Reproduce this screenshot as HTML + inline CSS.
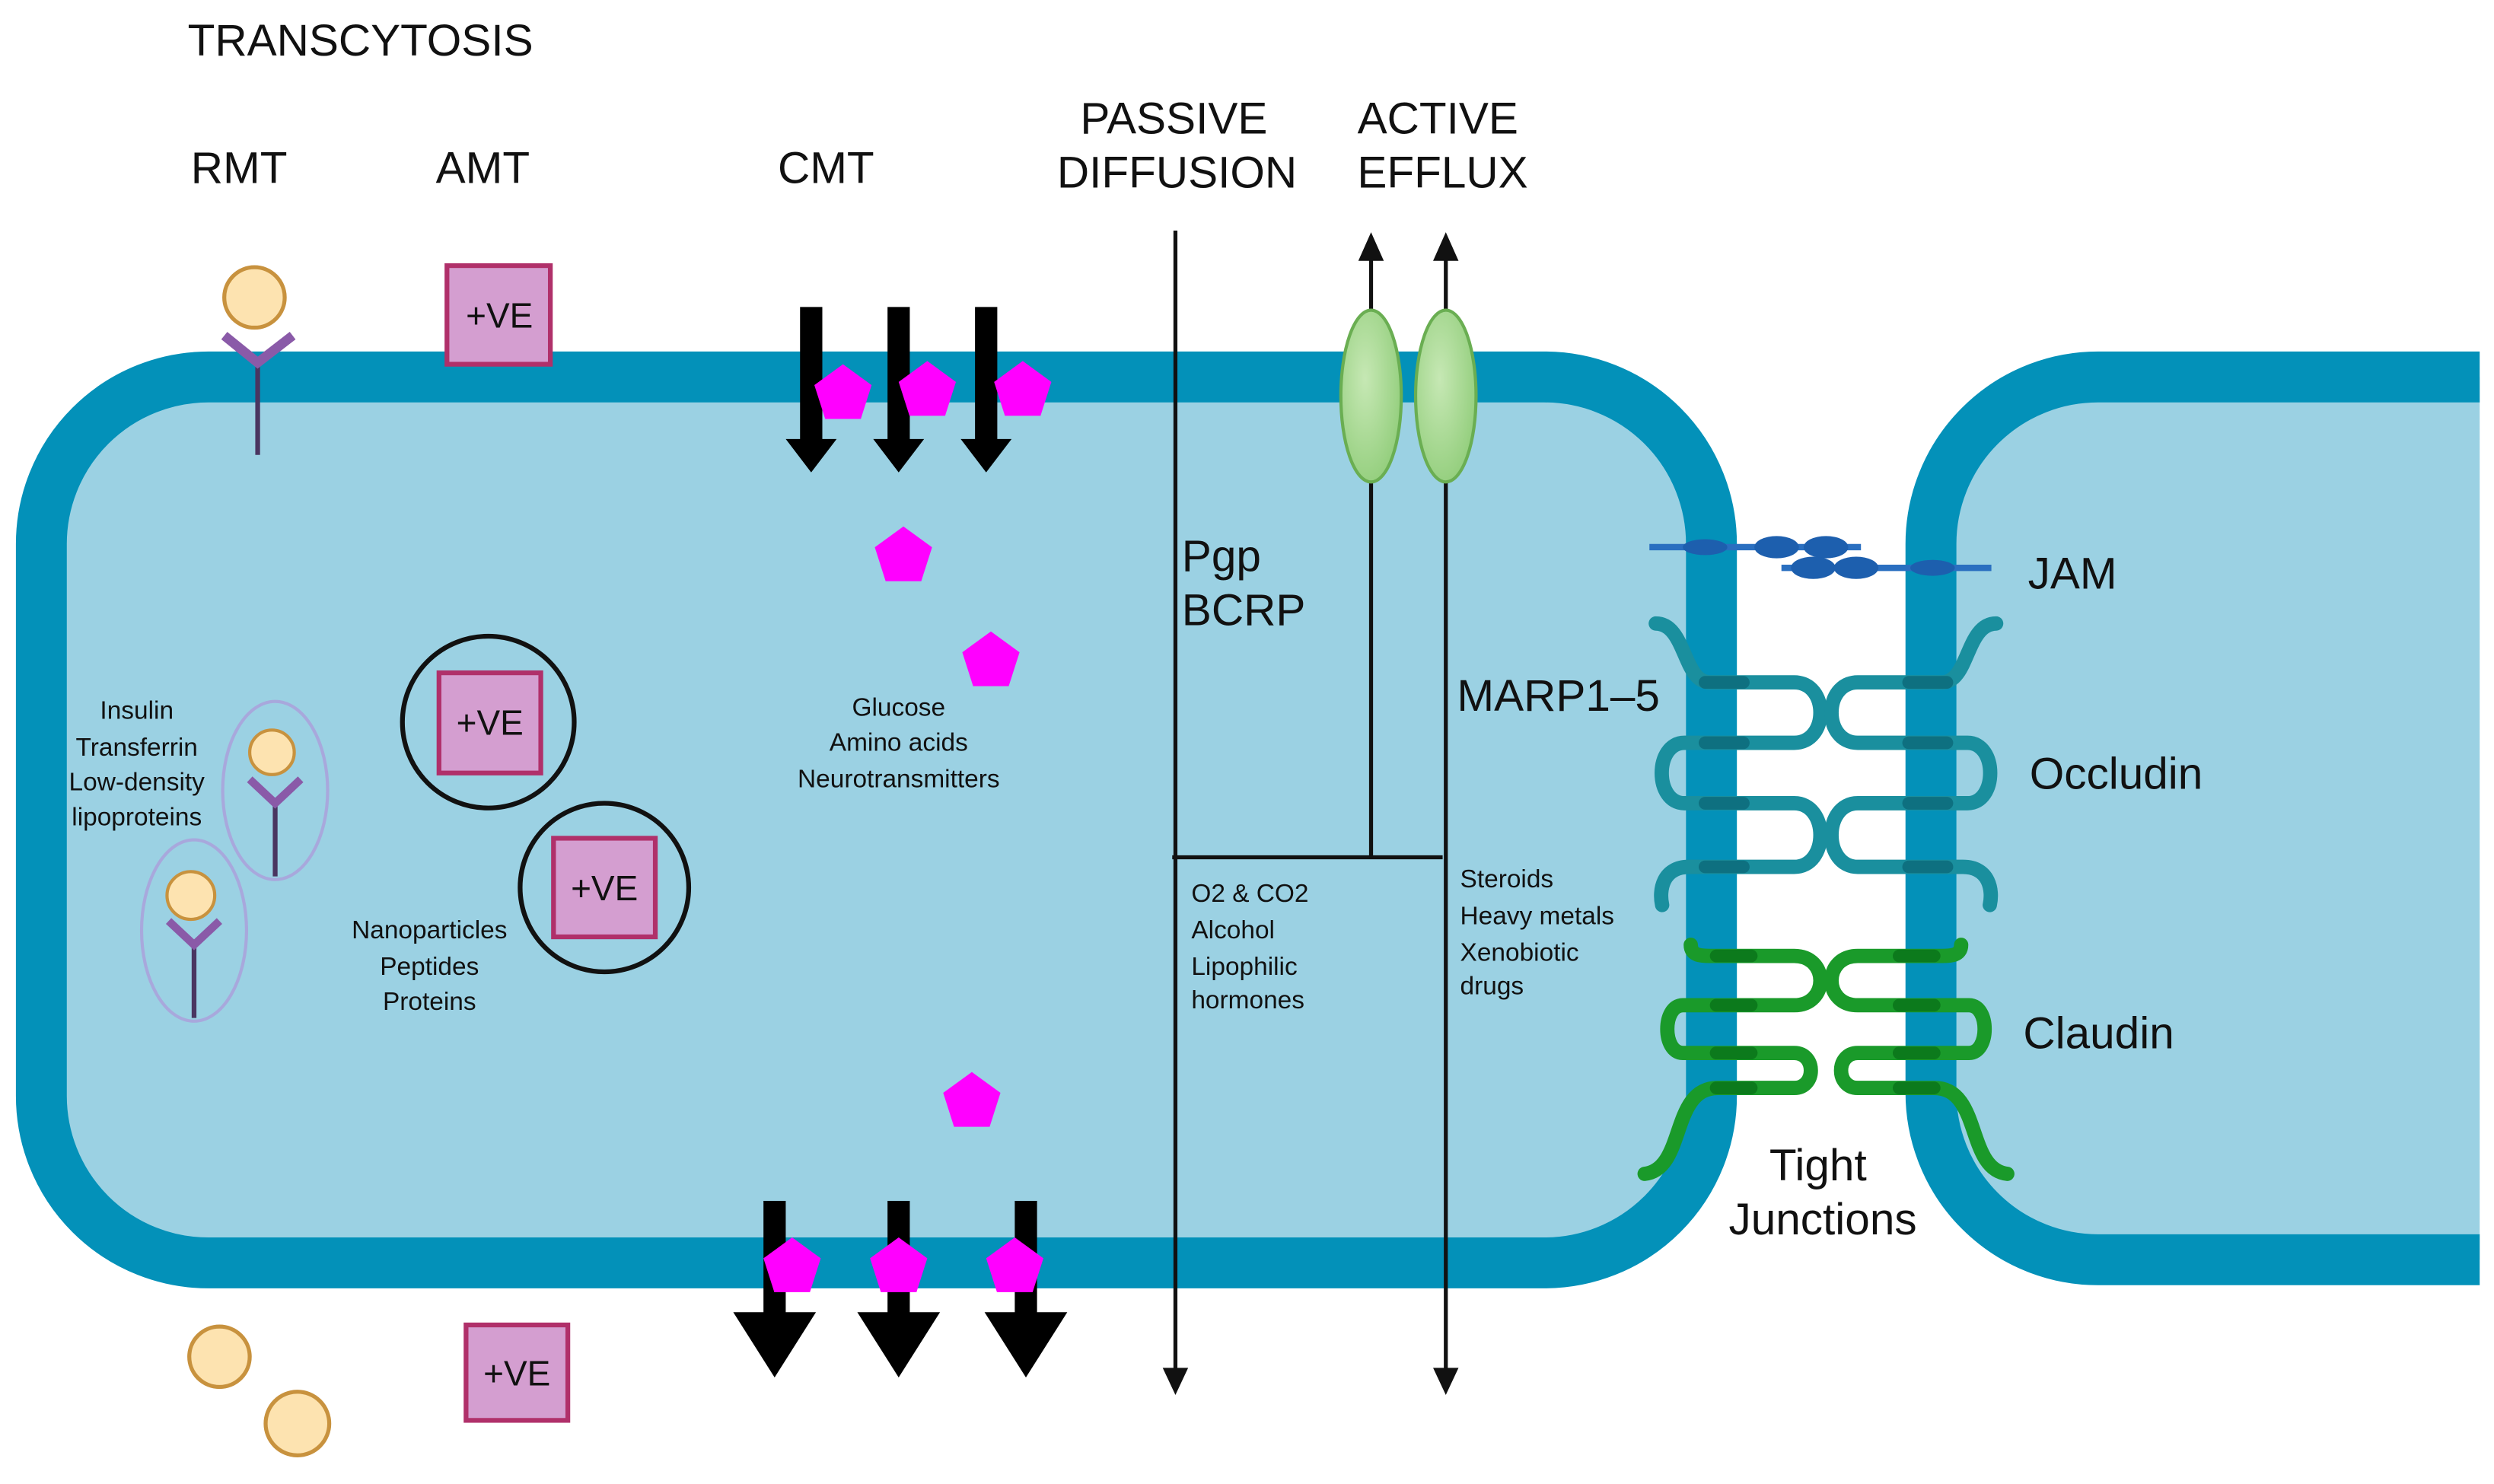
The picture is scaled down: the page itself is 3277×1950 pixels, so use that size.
<!DOCTYPE html>
<html><head><meta charset="utf-8"><style>
html,body{margin:0;padding:0;background:#fff;}
svg{display:block;}
text{font-family:"Liberation Sans",sans-serif;fill:#111;}
</style></head><body>
<svg width="3277" height="1950" viewBox="0 0 1568 933" preserveAspectRatio="none" xmlns="http://www.w3.org/2000/svg">
<defs>
<polygon id="pent" points="0,-19 18,-5.9 11.2,15.4 -11.2,15.4 -18,-5.9" fill="#ff00ff"/>
<radialGradient id="gr" cx="0.4" cy="0.4" r="0.7"><stop offset="0" stop-color="#c6e8b4"/><stop offset="1" stop-color="#8fcc78"/></radialGradient>
<clipPath id="rc"><rect x="1150" y="200" width="409" height="640"/></clipPath>
</defs>
<!-- cells -->
<rect x="26" y="237" width="1050" height="557" rx="105" fill="#9bd1e3" stroke="#0391b9" stroke-width="32"/>
<g clip-path="url(#rc)">
<rect x="1214" y="237" width="500" height="555" rx="105" fill="#9bd1e3" stroke="#0391b9" stroke-width="32"/>
</g>

<!-- titles -->
<g font-size="28">
<text x="118" y="35">TRANSCYTOSIS</text>
<text x="120" y="115">RMT</text>
<text x="274" y="115">AMT</text>
<text x="489" y="115">CMT</text>
<text x="738" y="84" text-anchor="middle">PASSIVE</text>
<text x="740" y="118" text-anchor="middle">DIFFUSION</text>
<text x="904" y="84" text-anchor="middle">ACTIVE</text>
<text x="907" y="118" text-anchor="middle">EFFLUX</text>
<text x="743" y="359">Pgp</text>
<text x="743" y="393">BCRP</text>
<text x="916" y="447">MARP1–5</text>
<text x="1275" y="370">JAM</text>
<text x="1276" y="496">Occludin</text>
<text x="1272" y="659">Claudin</text>
<text x="1143" y="742" text-anchor="middle">Tight</text>
<text x="1146" y="776" text-anchor="middle">Junctions</text>
</g>

<!-- passive / efflux lines -->
<g stroke="#111" stroke-width="2.5" fill="none">
<line x1="739" y1="145" x2="739" y2="862"/>
<line x1="737" y1="539" x2="907" y2="539"/>
<line x1="862" y1="539" x2="862" y2="160"/>
<line x1="909" y1="160" x2="909" y2="862"/>
</g>
<g fill="#111">
<polygon points="739,877 731,860 747,860"/>
<polygon points="909,877 901,860 917,860"/>
<polygon points="862,146 854,164 870,164"/>
<polygon points="909,146 901,164 917,164"/>
</g>
<ellipse cx="862" cy="249" rx="19" ry="54" fill="url(#gr)" stroke="#6aae52" stroke-width="2"/>
<ellipse cx="909" cy="249" rx="19" ry="54" fill="url(#gr)" stroke="#6aae52" stroke-width="2"/>

<!-- small text -->
<g font-size="16">
<text x="749" y="567">O2 &amp; CO2</text>
<text x="749" y="590">Alcohol</text>
<text x="749" y="613">Lipophilic</text>
<text x="749" y="634">hormones</text>
<text x="918" y="558">Steroids</text>
<text x="918" y="581">Heavy metals</text>
<text x="918" y="604">Xenobiotic</text>
<text x="918" y="625">drugs</text>
<text x="565" y="450" text-anchor="middle">Glucose</text>
<text x="565" y="472" text-anchor="middle">Amino acids</text>
<text x="565" y="495" text-anchor="middle">Neurotransmitters</text>
<text x="86" y="452" text-anchor="middle">Insulin</text>
<text x="86" y="475" text-anchor="middle">Transferrin</text>
<text x="86" y="497" text-anchor="middle">Low-density</text>
<text x="86" y="519" text-anchor="middle">lipoproteins</text>
<text x="270" y="590" text-anchor="middle">Nanoparticles</text>
<text x="270" y="613" text-anchor="middle">Peptides</text>
<text x="270" y="635" text-anchor="middle">Proteins</text>
</g>

<!-- CMT arrows -->
<g fill="#000">
<rect x="503" y="193" width="14" height="85"/><polygon points="494,276 526,276 510,297"/>
<rect x="558" y="193" width="14" height="85"/><polygon points="549,276 581,276 565,297"/>
<rect x="613" y="193" width="14" height="85"/><polygon points="604,276 636,276 620,297"/>
<rect x="480" y="755" width="14" height="72"/><polygon points="461,825 513,825 487,866"/>
<rect x="558" y="755" width="14" height="72"/><polygon points="539,825 591,825 565,866"/>
<rect x="638" y="755" width="14" height="72"/><polygon points="619,825 671,825 645,866"/>
</g>
<use href="#pent" x="530" y="248"/><use href="#pent" x="583" y="246"/><use href="#pent" x="643" y="246"/>
<use href="#pent" x="568" y="350"/><use href="#pent" x="623" y="416"/><use href="#pent" x="611" y="693"/>
<use href="#pent" x="498" y="797"/><use href="#pent" x="565" y="797"/><use href="#pent" x="638" y="797"/>

<!-- RMT -->
<line x1="162" y1="226" x2="162" y2="286" stroke="#4a3560" stroke-width="3"/>
<polyline points="141,211 162,228 184,211" fill="none" stroke="#8a5aa8" stroke-width="6"/>
<circle cx="160" cy="187" r="19" fill="#fde3b0" stroke="#c8923e" stroke-width="2.5"/>
<ellipse cx="173" cy="497" rx="33" ry="56" fill="none" stroke="#a8a8dc" stroke-width="2"/>
<line x1="173" y1="503" x2="173" y2="551" stroke="#4a3560" stroke-width="3"/>
<polyline points="157,490 173,505 189,490" fill="none" stroke="#8a5aa8" stroke-width="5"/>
<circle cx="171" cy="473" r="14" fill="#fde3b0" stroke="#c8923e" stroke-width="2"/>
<ellipse cx="122" cy="585" rx="33" ry="57" fill="none" stroke="#a8a8dc" stroke-width="2"/>
<line x1="122" y1="592" x2="122" y2="640" stroke="#4a3560" stroke-width="3"/>
<polyline points="106,579 122,594 138,579" fill="none" stroke="#8a5aa8" stroke-width="5"/>
<circle cx="120" cy="563" r="15" fill="#fde3b0" stroke="#c8923e" stroke-width="2"/>
<circle cx="138" cy="853" r="19" fill="#fde3b0" stroke="#c8923e" stroke-width="2.5"/>
<circle cx="187" cy="895" r="20" fill="#fde3b0" stroke="#c8923e" stroke-width="2.5"/>

<!-- +VE boxes -->
<g fill="#d49ed0" stroke="#b0306a" stroke-width="3">
<rect x="281" y="167" width="65" height="62"/>
<rect x="276" y="423" width="64" height="63"/>
<rect x="348" y="527" width="64" height="62"/>
<rect x="293" y="833" width="64" height="60"/>
</g>
<circle cx="307" cy="454" r="54" fill="none" stroke="#111" stroke-width="3"/>
<circle cx="380" cy="558" r="53" fill="none" stroke="#111" stroke-width="3"/>
<g font-size="22" text-anchor="middle">
<text x="314" y="206">+VE</text>
<text x="308" y="462">+VE</text>
<text x="380" y="566">+VE</text>
<text x="325" y="871">+VE</text>
</g>

<!-- JAM -->
<g stroke="#2a6fc0" stroke-width="4"><line x1="1037" y1="344" x2="1170" y2="344"/><line x1="1120" y1="357" x2="1252" y2="357"/></g>
<g fill="#1d5fae">
<ellipse cx="1072" cy="344" rx="14" ry="5"/><ellipse cx="1117" cy="344" rx="14" ry="7"/><ellipse cx="1148" cy="344" rx="14" ry="7"/>
<ellipse cx="1140" cy="357" rx="14" ry="7"/><ellipse cx="1167" cy="357" rx="14" ry="7"/><ellipse cx="1215" cy="357" rx="14" ry="5"/>
</g>

<!-- Occludin -->
<g fill="none" stroke="#1a8f9e" stroke-width="9" stroke-linecap="round">
<path id="occ" d="M1041,392 C1060,392 1058,429 1075,429 L1128,429 C1150,429 1150,467 1128,467 L1059,467 C1040,467 1040,505 1059,505 L1128,505 C1150,505 1150,545 1128,545 L1062,545 C1045,545 1043,560 1045,569"/>
<use href="#occ" transform="translate(2296,0) scale(-1,1)"/>
</g>
<!-- Claudin -->
<g fill="none" stroke="#1a9a2a" stroke-width="9" stroke-linecap="round">
<path id="cld" d="M1063,594 C1063,601 1070,601 1075,601 L1128,601 C1150,601 1150,632 1128,632 L1058,632 C1045,632 1045,662 1058,662 L1128,662 C1142,662 1142,684 1128,684 L1080,684 C1050,684 1060,735 1034,738"/>
<use href="#cld" transform="translate(2296,0) scale(-1,1)"/>
</g>
<g fill="#0e7080">
<rect x="1068" y="425" width="32" height="8" rx="4"/><rect x="1068" y="463" width="32" height="8" rx="4"/><rect x="1068" y="501" width="32" height="8" rx="4"/><rect x="1068" y="541" width="32" height="8" rx="4"/>
<rect x="1196" y="425" width="32" height="8" rx="4"/><rect x="1196" y="463" width="32" height="8" rx="4"/><rect x="1196" y="501" width="32" height="8" rx="4"/><rect x="1196" y="541" width="32" height="8" rx="4"/>
</g>
<g fill="#0c7a1c">
<rect x="1075" y="597" width="30" height="8" rx="4"/><rect x="1075" y="628" width="30" height="8" rx="4"/><rect x="1075" y="658" width="30" height="8" rx="4"/><rect x="1075" y="680" width="30" height="8" rx="4"/>
<rect x="1190" y="597" width="30" height="8" rx="4"/><rect x="1190" y="628" width="30" height="8" rx="4"/><rect x="1190" y="658" width="30" height="8" rx="4"/><rect x="1190" y="680" width="30" height="8" rx="4"/>
</g>
</svg>
</body></html>
